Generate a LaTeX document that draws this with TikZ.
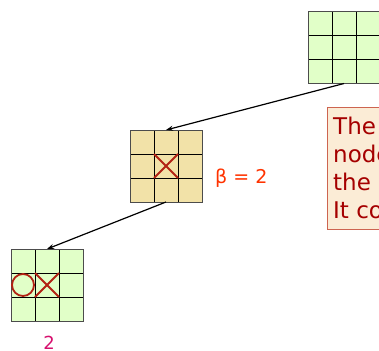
\documentclass[tikz,border=0pt]{standalone}
\usepackage{fontspec}
\setmainfont{DejaVu Sans}
\usetikzlibrary{calc,arrows.meta}
\definecolor{boardgreen}{RGB}{225,255,200}
\definecolor{boardtan}{RGB}{242,226,168}
\definecolor{markred}{RGB}{178,34,20}
\definecolor{betared}{RGB}{255,51,0}
\definecolor{scorepink}{RGB}{214,16,110}
\definecolor{notefill}{RGB}{251,236,214}
\definecolor{notedraw}{RGB}{205,100,80}
\definecolor{notetext}{RGB}{165,0,0}
\tikzset{
  board/.style={rectangle, draw=black!70, line width=1pt, minimum size=72pt,
    inner sep=0pt, outer sep=0pt,
    path picture={
      \foreach \i in {1,2}{
        \draw[black, line width=1pt]
          ($(path picture bounding box.north west)!\i/3!(path picture bounding box.north east)$) --
          ($(path picture bounding box.south west)!\i/3!(path picture bounding box.south east)$);
        \draw[black, line width=1pt]
          ($(path picture bounding box.north west)!\i/3!(path picture bounding box.south west)$) --
          ($(path picture bounding box.north east)!\i/3!(path picture bounding box.south east)$);
      }}},
  playmark/.style={draw=markred, line width=1.8pt},
  link/.style={draw=black, line width=1.2pt, -{Stealth[length=7pt,width=5pt]}},
  notebox/.style={rectangle, draw=notedraw, fill=notefill, line width=1pt, inner sep=0pt},
  notetxt/.style={text=notetext, font=\fontsize{23}{28}\selectfont, inner sep=0pt}
}
\begin{document}
\begin{tikzpicture}[x=1pt,y=-1pt]
\useasboundingbox (0,0) rectangle (379,350);
\clip (0,0) rectangle (379,350);

% boards
\node[board, fill=boardgreen] (top) at (344,47.5) {};
\node[board, fill=boardtan] (mid) at (166,166) {};
\node[board, fill=boardgreen] (bot) at (47,285) {};

% marks
\draw[playmark] ($(mid.north west)+(24,24)$) -- ($(mid.north west)+(48,48)$)
            ($(mid.north west)+(48,24)$) -- ($(mid.north west)+(24,48)$);
\draw[playmark] ($(bot.north west)+(24,24)$) -- ($(bot.north west)+(48,48)$)
            ($(bot.north west)+(48,24)$) -- ($(bot.north west)+(24,48)$);
\draw[playmark] ($(bot.north west)+(12,36)$) circle[radius=11pt];

% connectors
\draw[link] (top.south) -- (mid.north);
\draw[link] (mid.south) -- (bot.north);

% labels
\node[anchor=base west, inner sep=0pt, text=betared, font=\fontsize{19}{19}\selectfont] (beta) at (215,183) {β = 2};
\node[anchor=base, inner sep=0pt, text=scorepink, font=\fontsize{18}{18}\selectfont] (score) at (49,349) {2};

% note
\node[notebox, anchor=north west, minimum width=130pt, minimum height=122pt] (note) at (327,107) {};
\node[notetxt, anchor=base west] (l1) at (333,134) {The};
\node[notetxt, anchor=base west] (l2) at (333,162) {node};
\node[notetxt, anchor=base west] (l3) at (333,190) {the};
\node[notetxt, anchor=base west] (l4) at (333,218) {It co};
\end{tikzpicture}
\end{document}
